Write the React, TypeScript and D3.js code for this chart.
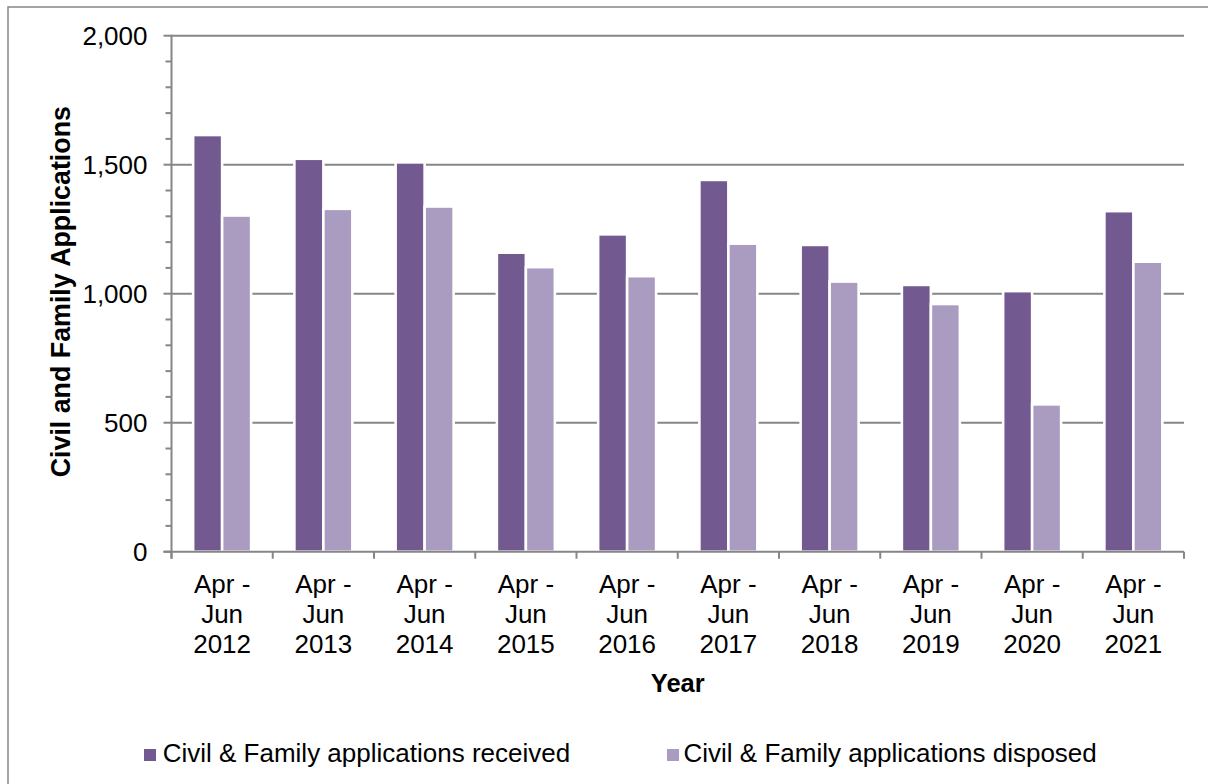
import React from "react";
import * as d3 from "d3";

const categories = [
  ["Apr -", "Jun", "2012"],
  ["Apr -", "Jun", "2013"],
  ["Apr -", "Jun", "2014"],
  ["Apr -", "Jun", "2015"],
  ["Apr -", "Jun", "2016"],
  ["Apr -", "Jun", "2017"],
  ["Apr -", "Jun", "2018"],
  ["Apr -", "Jun", "2019"],
  ["Apr -", "Jun", "2020"],
  ["Apr -", "Jun", "2021"],
];
const received = [1615, 1523, 1509, 1159, 1230, 1441, 1189, 1034, 1010, 1320];
const disposed = [1303, 1329, 1338, 1103, 1068, 1194, 1047, 960, 571, 1124];
const seriesNames = [
  "Civil & Family applications received",
  "Civil & Family applications disposed",
];
const seriesColors = ["#72598F", "#AA9BC0"];
const yTicks = [0, 500, 1000, 1500, 2000];
const yMinorTicks = d3.range(0, 2001, 100);

const FONT = "'Liberation Sans', Arial, sans-serif";
const GRID = "#868686";

export default function App() {
  const left = 171.5, right = 1184, top = 35.7, bottom = 551.7;
  const keys = categories.map((c) => c.join(" "));
  const x0 = d3.scaleBand<string>().domain(keys).range([left, right]).padding(0);
  const x1 = d3
    .scaleBand<string>()
    .domain(seriesNames)
    .range([0, x0.bandwidth()])
    .paddingInner(0)
    .paddingOuter(0.746);
  const y = d3.scaleLinear().domain([0, 2000]).range([bottom, top]);
  const data = [received, disposed];

  return (
    <svg
      width={1208}
      height={784}
      style={{ position: "absolute", left: 0, top: 0, background: "#fff" }}
      fontFamily={FONT}
    >
      <rect x={0} y={0} width={1208} height={784} fill="#fff" />
      <rect x={8} y={7} width={1220} height={800} fill="none" stroke={GRID} strokeWidth={1.5} />

      {/* gridlines */}
      {yTicks.filter((t) => t > 0).map((t) => (
        <line key={"g" + t} x1={left} x2={right} y1={y(t)} y2={y(t)} stroke={GRID} strokeWidth={2} />
      ))}

      {/* bars */}
      {data.map((vals, si) =>
        vals.map((v, i) => (
          <rect
            key={si + "-" + i}
            x={(x0(keys[i]) as number) + (x1(seriesNames[si]) as number)}
            y={y(v)}
            width={x1.bandwidth()}
            height={y(0) - y(v)}
            fill={seriesColors[si]}
            stroke="#fff"
            strokeWidth={2.6}
          />
        ))
      )}

      {/* y axis */}
      <line x1={left} x2={left} y1={top - 1} y2={bottom + 7} stroke={GRID} strokeWidth={2} />
      {yMinorTicks.map((t) => (
        <line key={"m" + t} x1={left - (t % 500 === 0 ? 8 : 6)} x2={left} y1={y(t)} y2={y(t)} stroke={GRID} strokeWidth={2} />
      ))}
      {yTicks.map((t) => (
        <text key={"yl" + t} x={147.5} y={y(t) + 9} textAnchor="end" fontSize={26} fill="#000">
          {d3.format(",")(t)}
        </text>
      ))}

      {/* x axis */}
      <line x1={left - 8} x2={right} y1={bottom} y2={bottom} stroke={GRID} strokeWidth={2} />
      {keys.map((k) => (
        <line key={"xt" + k} x1={x0(k) as number} x2={x0(k) as number} y1={bottom} y2={bottom + 7} stroke={GRID} strokeWidth={2} />
      ))}
      <line x1={right} x2={right} y1={bottom} y2={bottom + 7} stroke={GRID} strokeWidth={2} />
      {categories.map((c, i) => (
        <text key={"xl" + i} textAnchor="middle" fontSize={26} fill="#000">
          {c.map((line, li) => (
            <tspan key={li} x={(x0(keys[i]) as number) + x0.bandwidth() / 2} y={593 + li * 30}>
              {line}
            </tspan>
          ))}
        </text>
      ))}

      {/* axis titles */}
      <text x={(left + right) / 2} y={692} textAnchor="middle" fontSize={25.5} fontWeight="bold" fill="#000">
        Year
      </text>
      <text
        transform={`translate(70, ${(top + bottom) / 2 - 2}) rotate(-90)`}
        textAnchor="middle"
        fontSize={26.8}
        fontWeight="bold"
        fill="#000"
      >
        Civil and Family Applications
      </text>

      {/* legend */}
      {[
        { mx: 144, tx: 162.7 },
        { mx: 667, tx: 683.5 },
      ].map((p, i) => (
        <g key={"lg" + i}>
          <rect x={p.mx} y={749} width={12} height={12} fill={seriesColors[i]} />
          <text x={p.tx} y={762} fontSize={26} fill="#000">
            {seriesNames[i]}
          </text>
        </g>
      ))}
    </svg>
  );
}
